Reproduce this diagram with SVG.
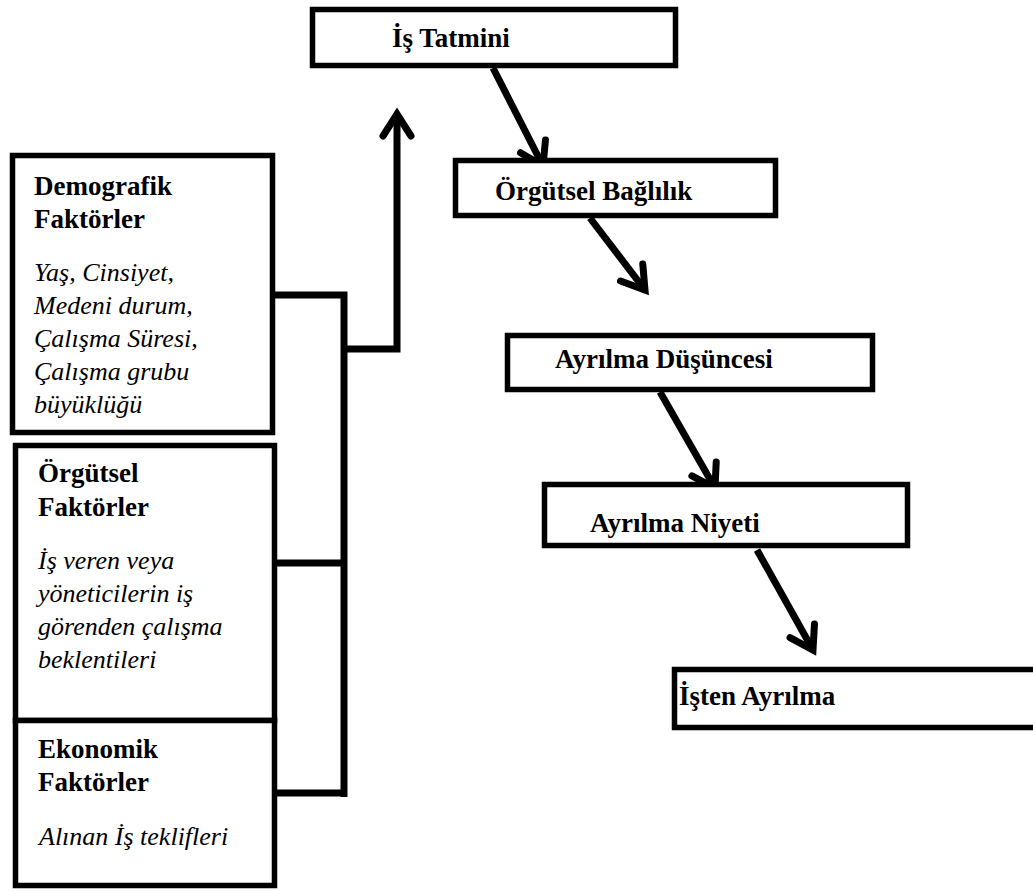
<svg xmlns="http://www.w3.org/2000/svg" width="1033" height="891" viewBox="0 0 1033 891">
<style>
.box{fill:#fff;stroke:#000;stroke-width:5.5}
.b{font-family:"Liberation Serif","Times New Roman",serif;font-weight:bold;font-size:27px;fill:#000}
.i{font-family:"Liberation Serif","Times New Roman",serif;font-style:italic;font-size:26px;fill:#000}
.con{fill:none;stroke:#000;stroke-width:7}
</style>
<defs>
<marker id="ah" markerUnits="userSpaceOnUse" markerWidth="60" markerHeight="60" viewBox="-30 -30 60 60" refX="0" refY="0" orient="auto" overflow="visible">
<path d="M-22,-14 L0,0 L-22,14" fill="none" stroke="#000" stroke-width="7" stroke-linecap="round" stroke-linejoin="miter"/>
</marker>
</defs>
<rect x="0" y="0" width="1033" height="891" fill="#fff"/>
<g id="connectors">
<line class="con" x1="493" y1="68" x2="543" y2="166" marker-end="url(#ah)"/>
<line class="con" x1="590" y1="218" x2="645" y2="290" marker-end="url(#ah)"/>
<line class="con" x1="660" y1="392" x2="715" y2="488" marker-end="url(#ah)"/>
<line class="con" x1="757" y1="550" x2="813" y2="650" marker-end="url(#ah)"/>
<polyline class="con" points="272,295 344,295 344,797"/>
<line class="con" x1="275" y1="563" x2="344" y2="563"/>
<line class="con" x1="275" y1="793" x2="347" y2="793"/>
<polyline class="con" points="344,349 397,349 397,114" marker-end="url(#ah)"/>
</g>
<g id="is-tatmini">
<rect class="box" x="312.5" y="9.5" width="363" height="56"/>
<text class="b" x="392" y="47">İş Tatmini</text>
</g>
<g id="orgutsel-baglilik">
<rect class="box" x="455.5" y="160.5" width="320" height="55"/>
<text class="b" x="495" y="200">Örgütsel Bağlılık</text>
</g>
<g id="ayrilma-dusuncesi">
<rect class="box" x="507.5" y="335.5" width="365" height="54"/>
<text class="b" x="555" y="368">Ayrılma Düşüncesi</text>
</g>
<g id="ayrilma-niyeti">
<rect class="box" x="544.5" y="484.5" width="363" height="61"/>
<text class="b" x="590" y="532">Ayrılma Niyeti</text>
</g>
<g id="isten-ayrilma">
<rect class="box" x="674.5" y="669.5" width="400" height="58"/>
<text class="b" x="679" y="705">İşten Ayrılma</text>
</g>
<g id="demografik">
<rect class="box" x="12.5" y="155.5" width="260" height="277"/>
<text class="b" x="34" y="195">Demografik</text>
<text class="b" x="34" y="228">Faktörler</text>
<text class="i" x="34" y="281">Yaş, Cinsiyet,</text>
<text class="i" x="34" y="314">Medeni durum,</text>
<text class="i" x="34" y="347">Çalışma Süresi,</text>
<text class="i" x="34" y="380">Çalışma grubu</text>
<text class="i" x="34" y="413">büyüklüğü</text>
</g>
<g id="orgutsel-faktorler">
<rect class="box" x="15.5" y="445.5" width="259" height="275"/>
<text class="b" x="38" y="482">Örgütsel</text>
<text class="b" x="38" y="516">Faktörler</text>
<text class="i" x="38" y="569">İş veren veya</text>
<text class="i" x="38" y="602">yöneticilerin iş</text>
<text class="i" x="38" y="635">görenden çalışma</text>
<text class="i" x="38" y="668">beklentileri</text>
</g>
<g id="ekonomik-faktorler">
<rect class="box" x="15.5" y="720.5" width="259" height="165"/>
<text class="b" x="38" y="758">Ekonomik</text>
<text class="b" x="38" y="791">Faktörler</text>
<text class="i" x="39" y="845">Alınan İş teklifleri</text>
</g>
</svg>
